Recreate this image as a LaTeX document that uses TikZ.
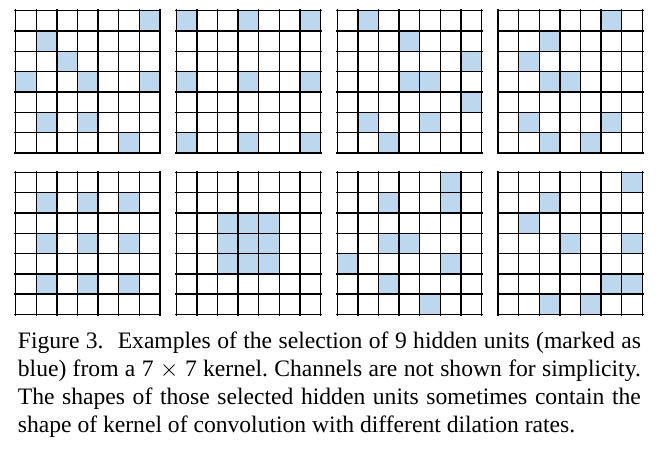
\documentclass[tikz,border=0pt]{standalone}
\usepackage{fontspec}
\setmainfont{Liberation Serif}
\definecolor{cellblue}{RGB}{189,215,238}
\tikzset{
  selcell/.style={fill=cellblue},
  gridline/.style={line width=0.7pt, black},
}
\newcommand{\cw}{20.6}
\newcommand{\ch}{20.3}

\begin{document}
\begin{tikzpicture}[x=0.5pt,y=-0.5pt]
  \useasboundingbox (0,0) rectangle (660,450);
  % eight 7x7 kernels, selected cells given as col/row
  \foreach \gx/\gy/\cells in {
      15.7/10.7/{6/0,1/1,2/2,0/3,3/3,6/3,1/5,3/5,5/6},
      176.2/10.7/{0/0,3/0,6/0,0/3,3/3,6/3,0/6,3/6,6/6},
      337.2/10.7/{1/0,3/1,6/2,3/3,4/3,6/4,1/5,4/5,2/6},
      498/10.7/{5/0,2/1,1/2,2/3,3/3,1/5,5/5,2/6,4/6},
      15.7/172.3/{1/1,3/1,5/1,1/3,3/3,5/3,1/5,3/5,5/5},
      176.2/172.3/{2/2,3/2,4/2,2/3,3/3,4/3,2/4,3/4,4/4},
      337.2/172.3/{5/0,2/1,5/1,2/3,3/3,0/4,5/4,2/5,4/6},
      498/172.3/{6/0,2/1,1/2,3/3,6/3,5/5,6/5,2/6,4/6}}{
    \begin{scope}[shift={(\gx,\gy)}]
      \foreach \c/\r in \cells{
        \fill[selcell] (\c*\cw,\r*\ch) rectangle ++(\cw,\ch);
      }
      \foreach \i in {0,...,7}{
        \draw[gridline] (\i*\cw,-1.5) -- (\i*\cw,7*\ch+1.5);
        \draw[gridline] (-1.5,\i*\ch) -- (7*\cw+1.5,\i*\ch);
      }
    \end{scope}
  }
  \node[anchor=north west, inner sep=0pt, text width=311.5pt, align=justify,
        font=\fontsize{11.8}{14}\selectfont\frenchspacing] (caption) at (17.5,331) {%
    Figure 3.\hspace{0.6em}Examples of the selection of 9 hidden units (marked as\linebreak
    blue) from a 7 $\times$ 7 kernel. Channels are not shown for simplicity.\linebreak
    The shapes of those selected hidden units sometimes contain the\linebreak
    shape of kernel of convolution with different dilation rates.};
\end{tikzpicture}
\end{document}
